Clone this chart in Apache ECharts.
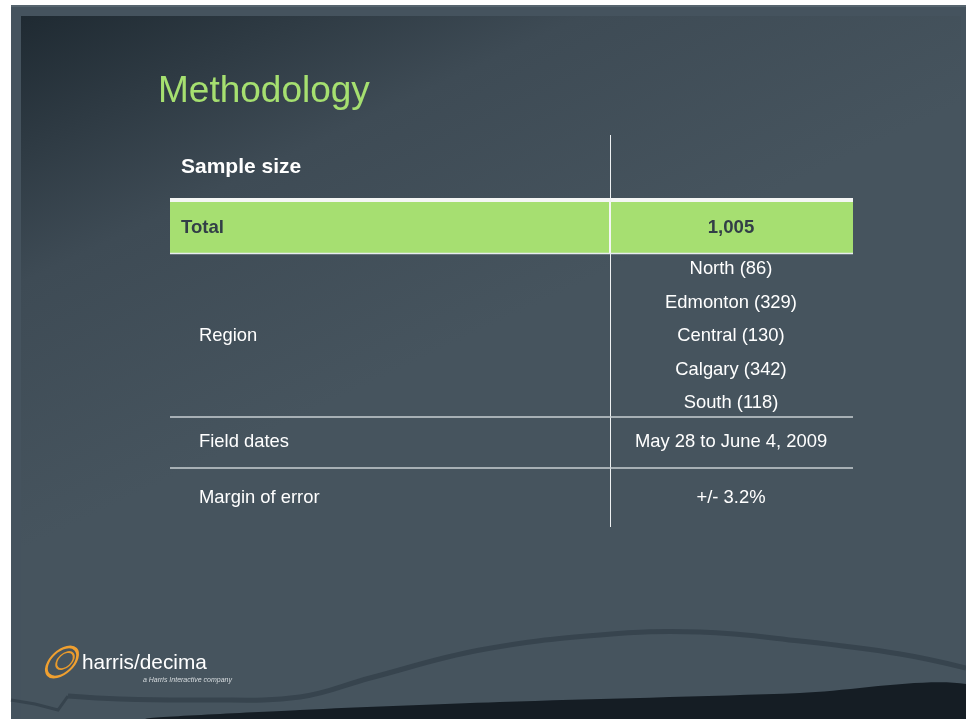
<!DOCTYPE html>
<html>
<head>
<meta charset="utf-8">
<script src="https://cdn.jsdelivr.net/npm/echarts@6/dist/echarts.min.js"></script>
<style>
html,body{margin:0;padding:0;background:#fff;}
#c{width:966px;height:719px;}
</style>
</head>
<body>
<div id="c"></div>
<script>
// ---- data ----
var title = 'Methodology';
var headerLabel = 'Sample size';
var totalLabel = 'Total';
var totalValue = 1005;
var regionLabel = 'Region';
var regionNames = ['North', 'Edmonton', 'Central', 'Calgary', 'South'];
var regionCounts = [86, 329, 130, 342, 118];
var otherLabels = ['Field dates', 'Margin of error'];
var otherValues = ['May 28 to June 4, 2009', '+/- 3.2%'];

// ---- layout ----
var FONT = '"Liberation Sans", Arial, sans-serif';
var tableLeft = 170, tableRight = 853, divX = 610.5;
var leftTextX = 199, rightCenterX = 731;
var regionY0 = 269, regionStep = 33.5;
var otherY = [442, 498];
var bodyFont = '18.4px ' + FONT;

var g = [];

// frame + slide background
g.push({type:'rect', shape:{x:11,y:5,width:955,height:714}, style:{fill:'#45535e'}, z:0});
g.push({type:'rect', shape:{x:11,y:5,width:955,height:2}, style:{fill:'#56646e'}, z:0});
g.push({type:'rect', shape:{x:21,y:16,width:940,height:703},
  style:{fill:{type:'linear',x:0,y:0,x2:0.22,y2:0.62,colorStops:[
    {offset:0,color:'#1f2a32'},{offset:0.5,color:'#3e4b55'},{offset:1,color:'#46545e'}]}}, z:1});

// bottom swoosh
g.push({type:'polygon', shape:{points:[[150,719],[300,710],[500,702],[800,693],[966,684],[966,719]], smooth:0.3},
  style:{fill:'#151d24'}, z:2});
g.push({type:'polyline', shape:{points:[[11,700],[35,704],[58,710],[68,696]]},
  style:{stroke:'#36434d',lineWidth:3,fill:null}, z:2});
g.push({type:'polyline', shape:{points:[[68,696],[120,699],[200,700],[300,697],[370,678],[480,650],[600,635],[700,632],[800,641],[900,654],[966,668]], smooth:0.4},
  style:{stroke:'#37444e',lineWidth:5,fill:null}, z:2});

// title
g.push({type:'text', x:158, y:92, style:{text:title, fill:'#a6e070', font:'37px '+FONT, align:'left', verticalAlign:'middle'}, z:5});

// table structure
g.push({type:'line', shape:{x1:divX,y1:135,x2:divX,y2:527}, style:{stroke:'#eef1f2',lineWidth:1}, z:6});
g.push({type:'rect', shape:{x:tableLeft,y:202,width:tableRight-tableLeft,height:51}, style:{fill:'#a6df71'}, z:5});
g.push({type:'rect', shape:{x:tableLeft,y:198,width:tableRight-tableLeft,height:4}, style:{fill:'#f4f6f4'}, z:5});
g.push({type:'rect', shape:{x:609,y:202,width:2,height:51}, style:{fill:'#f4f6f4'}, z:6});
g.push({type:'line', shape:{x1:tableLeft,y1:253.5,x2:tableRight,y2:253.5}, style:{stroke:'#e8ecee',lineWidth:1.5}, z:6});
g.push({type:'line', shape:{x1:tableLeft,y1:417,x2:tableRight,y2:417}, style:{stroke:'#c9cfd3',lineWidth:1.5}, z:6});
g.push({type:'line', shape:{x1:tableLeft,y1:468,x2:tableRight,y2:468}, style:{stroke:'#c9cfd3',lineWidth:1.5}, z:6});

// header and total row
g.push({type:'text', x:181, y:167, style:{text:headerLabel, fill:'#ffffff', font:'bold 21px '+FONT, verticalAlign:'middle'}, z:7});
g.push({type:'text', x:181, y:227.5, style:{text:totalLabel, fill:'#323e47', font:'bold 18.6px '+FONT, verticalAlign:'middle'}, z:7});
g.push({type:'text', x:rightCenterX, y:227.5, style:{text:totalValue.toLocaleString('en-US'), fill:'#323e47', font:'bold 18.6px '+FONT, align:'center', verticalAlign:'middle'}, z:7});

// region rows
var regionMidY = regionY0 + regionStep * (regionNames.length - 1) / 2;
g.push({type:'text', x:leftTextX, y:regionMidY, style:{text:regionLabel, fill:'#ffffff', font:bodyFont, verticalAlign:'middle'}, z:7});
regionNames.forEach(function(n, i){
  g.push({type:'text', x:rightCenterX, y:regionY0 + regionStep*i,
    style:{text:n + ' (' + regionCounts[i] + ')', fill:'#ffffff', font:bodyFont, align:'center', verticalAlign:'middle'}, z:7});
});
otherLabels.forEach(function(l, i){
  g.push({type:'text', x:leftTextX, y:otherY[i], style:{text:l, fill:'#ffffff', font:bodyFont, verticalAlign:'middle'}, z:7});
  g.push({type:'text', x:rightCenterX, y:otherY[i], style:{text:otherValues[i], fill:'#ffffff', font:bodyFont, align:'center', verticalAlign:'middle'}, z:7});
});

// logo
g.push({type:'group', x:62, y:662, rotation:0.75, children:[
  {type:'circle', z:8, shape:{cx:0,cy:0,r:11}, scaleX:1.7, style:{fill:null, stroke:'#f0a030', lineWidth:2}},
  {type:'circle', z:8, shape:{cx:2,cy:1,r:6.5}, scaleX:1.6, style:{fill:null, stroke:'#e89a2c', lineWidth:1.4}}
]});
g.push({type:'text', x:82, y:663, style:{text:'harris/decima', fill:'#ffffff', font:'20.8px '+FONT, verticalAlign:'middle'}, z:7});
g.push({type:'text', x:232, y:680, style:{text:'a Harris Interactive company', fill:'#d8dde0', font:'italic 7px '+FONT, align:'right', verticalAlign:'middle'}, z:7});

var chart = echarts.init(document.getElementById('c'), null, {renderer:'canvas'});
chart.setOption({
  backgroundColor:'#ffffff',
  animation:false,
  graphic:{elements:g}
});
</script>
</body>
</html>
